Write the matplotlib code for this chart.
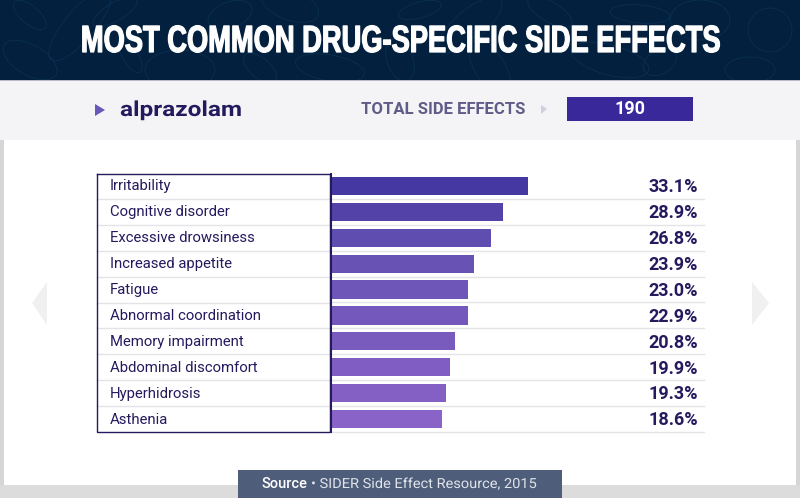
import matplotlib
matplotlib.use("Agg")
import matplotlib.pyplot as plt
from matplotlib.patches import Rectangle, Polygon, Ellipse
from matplotlib.colors import LinearSegmentedColormap
from matplotlib.patheffects import AbstractPathEffect
from matplotlib.transforms import Affine2D

TITLE = "MOST COMMON DRUG-SPECIFIC SIDE EFFECTS"
DRUG = "alprazolam"
TOTAL_LABEL = "TOTAL SIDE EFFECTS"
TOTAL = "190"
SOURCE_BOLD = "Source"
SOURCE_REST = "• SIDER Side Effect Resource, 2015"
effects = ["Irritability", "Cognitive disorder", "Excessive drowsiness", "Increased appetite",
           "Fatigue", "Abnormal coordination", "Memory impairment", "Abdominal discomfort",
           "Hyperhidrosis", "Asthenia"]
percent = [33.1, 28.9, 26.8, 23.9, 23.0, 22.9, 20.8, 19.9, 19.3, 18.6]

W, H = 800, 498


class Stretch(AbstractPathEffect):
    """Draws a text scaled about an anchor, in device pixels (y measured from the top)."""
    def __init__(self, ax_px, ay_px, sx=1.0, sy=1.0, stroke=0.0, color=None):
        super().__init__()
        self.ax, self.ay, self.sx, self.sy = ax_px, H - ay_px, sx, sy
        self.stroke, self.color = stroke, color

    def draw_path(self, renderer, gc, tpath, affine, rgbFace=None):
        t = affine + Affine2D().translate(-self.ax, -self.ay).scale(self.sx, self.sy).translate(self.ax, self.ay)
        if self.stroke:
            gc0 = renderer.new_gc()
            gc0.copy_properties(gc)
            gc0.set_linewidth(self.stroke)
            gc0.set_foreground(self.color)
            renderer.draw_path(gc0, tpath, t, rgbFace)
            gc0.restore()
        else:
            renderer.draw_path(gc, tpath, t, rgbFace)


fig = plt.figure(figsize=(8, 4.98), dpi=100, facecolor="white")

# page furniture, in pixel coordinates
bg = fig.add_axes([0, 0, 1, 1])
bg.set_xlim(0, W); bg.set_ylim(H, 0); bg.axis("off")
def box(x0, y0, x1, y1, c, z=1, **kw):
    p = Rectangle((x0, y0), x1 - x0, y1 - y0, fc=c, ec="none", zorder=z, **kw)
    bg.add_patch(p)
    return p
box(0, 140, 4, 498, "#d6d6d6")
box(796, 140, 800, 498, "#d6d6d6")
box(0, 485, 800, 498, "#dcdcdc")
header = box(0, 0, 800, 80, "#03203f")
box(0, 80, 800, 81, "#b9bcc6")
box(0, 81, 800, 140, "#f4f4f6")
for cx, cy, w, h, a in [(30, 60, 60, 30, 30), (80, 25, 90, 30, -50), (180, 70, 70, 40, 0),
                        (115, 12, 50, 18, -30), (290, 5, 60, 30, 20), (330, 68, 70, 26, 10),
                        (470, 25, 80, 30, -40), (490, 68, 70, 30, 60), (610, 60, 80, 30, 15),
                        (700, 20, 60, 40, 0), (770, 30, 44, 44, 0), (750, 70, 50, 26, 0),
                        (640, 14, 60, 18, 5), (400, 60, 44, 26, 70), (30, 15, 40, 18, 40),
                        (230, 15, 46, 26, -20), (550, 12, 50, 20, 30), (130, 55, 40, 16, 60),
                        (260, 68, 40, 20, 40), (420, 10, 44, 16, -15), (660, 62, 36, 24, -30)]:
    e = Ellipse((cx, cy), w, h, angle=a, fc="none", ec="#0b3355", lw=0.5, zorder=2)
    bg.add_patch(e)
    e.set_clip_path(header)
bg.add_patch(Polygon([(95, 104), (105, 110), (95, 116)], fc="#6a58b8", ec="none", zorder=3))
bg.add_patch(Polygon([(541, 105), (547, 109), (541, 114)], fc="#cfd0de", ec="none", zorder=3))
bg.add_patch(Polygon([(47, 282), (47, 325), (32, 303)], fc="#f0f0f0", ec="none", zorder=3))
bg.add_patch(Polygon([(752, 282), (752, 325), (769, 303)], fc="#f0f0f0", ec="none", zorder=3))
box(567, 97, 693, 121, "#38289a", 3)
box(238, 470, 562, 498, "#4e5d79", 3)

t = bg.text(400, 52, TITLE, ha="center", va="baseline", color="white", fontsize=22,
            family="Liberation Sans", weight="bold", zorder=4)
t.set_path_effects([Stretch(400, 52, sx=0.893, sy=1.24, stroke=0.9, color="white")])
t = bg.text(120, 116, DRUG, ha="left", va="baseline", color="#241a5e", fontsize=15,
            family="Roboto", weight="bold", zorder=4)
t.set_path_effects([Stretch(120, 116, sx=1.17)])
bg.text(361, 109, TOTAL_LABEL, ha="left", va="center", color="#5f5c88", fontsize=12,
        family="Roboto", weight="bold", zorder=4)
bg.text(630, 109, TOTAL, ha="center", va="center", color="white", fontsize=13,
        family="Roboto", weight="bold", zorder=4)
bg.text(262, 484, SOURCE_BOLD, ha="left", va="center", color="white", fontsize=10.5,
        family="Roboto", weight="medium", zorder=4)
t = bg.text(311, 484, SOURCE_REST, ha="left", va="center", color="#dfe3ea", fontsize=10,
            family="Roboto", zorder=4)
t.set_path_effects([Stretch(311, 484, sx=1.05)])

# chart: origin at the bar baseline, right edge at the end of the row rules
L, R, T, B = 332, 704, 173, 432
ax = fig.add_axes([L / W, 1 - B / H, (R - L) / W, (B - T) / H])
ax.patch.set_alpha(0)
PX_PER_PCT = 196 / 33.1
ax.set_xlim(0, (R - L) / PX_PER_PCT)
ax.set_ylim(len(effects) - 0.5, -0.5)
ax.axis("off")
cmap = LinearSegmentedColormap.from_list("b", [(0, "#4538a2"), (0.25, "#6450b2"), (1, "#8a63c8")])
n = len(effects)
for i, (name, v) in enumerate(zip(effects, percent)):
    ax.barh(i, v, height=0.7, color=cmap(i / (n - 1)), zorder=3)
    ax.axhline(i + 0.5, color="#e4e4e8", lw=1, zorder=1, clip_on=False)
    ax.text(61.75, i + 0.05, f"{v:.1f}%", ha="right", va="center", color="#241a5e",
            fontsize=13, family="Roboto", weight="bold")

# label panel, drawn over the row rules
bg2 = fig.add_axes([0, 0, 1, 1])
bg2.set_xlim(0, W); bg2.set_ylim(H, 0); bg2.axis("off"); bg2.patch.set_alpha(0)
for i in range(1, n):
    y = T + (B - T) * i / n
    bg2.plot([97, 330], [y, y], color="#e4e4e8", lw=1, zorder=1)
bg2.plot([97, 97, 330, 330, 97], [173.5, 432, 432, 173.5, 173.5], color="#241a5e", lw=1, zorder=2,
         solid_joinstyle="miter")
bg2.plot([330.5, 330.5], [173, 433], color="#241a5e", lw=1.5, zorder=2, solid_capstyle="butt")
for i, name in enumerate(effects):
    y = T + (B - T) * (i + 0.5) / n + 0.5
    bg2.text(110, y, name, ha="left", va="center", color="#241a5e", fontsize=10.7,
             family="Roboto", zorder=3)

fig.savefig("out.png", dpi=100)
